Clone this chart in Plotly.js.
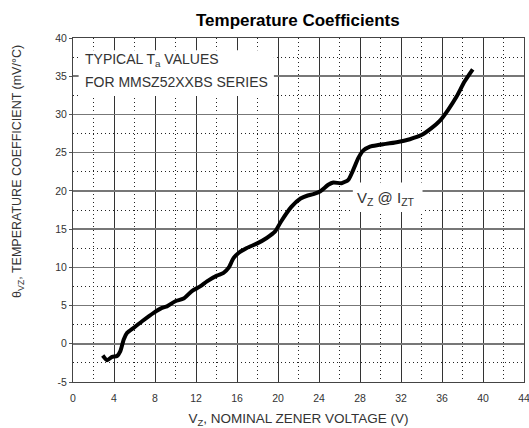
<!DOCTYPE html>
<html>
<head>
<meta charset="utf-8">
<script src="https://cdn.plot.ly/plotly-3.0.1.min.js"></script>
<style>html,body{margin:0;padding:0;background:#fff;}#chart{width:529px;height:428px;}</style>
</head>
<body>
<div id="chart"></div>
<script>
// Nominal zener voltage (V)
const vz = [2.9, 3.33, 3.82, 4.3, 4.62, 4.95, 5.28, 5.92, 6.74, 7.87, 8.68, 9.17, 9.98, 10.79, 11.6, 12.4, 13.07, 14.04, 14.69, 15.17, 15.66, 16.15, 16.96, 17.93, 18.9, 19.72, 20.3, 21.3, 22.2, 22.9, 23.45, 24.1, 24.9, 25.4, 26.2, 26.86, 27.34, 27.83, 28.3, 28.97, 29.78, 30.26, 31.57, 32.86, 34.0, 34.97, 35.78, 36.6, 37.41, 38.2, 39.0];
// Temperature coefficient (mV/°C)
const tc = [-1.53, -2.14, -1.7, -1.6, -0.96, 0.56, 1.43, 2.09, 2.95, 4.05, 4.7, 4.9, 5.56, 5.91, 6.9, 7.5, 8.17, 8.92, 9.27, 9.92, 11.2, 11.88, 12.53, 13.1, 13.84, 14.7, 16.0, 17.9, 19.0, 19.4, 19.58, 19.92, 20.8, 21.1, 21.0, 21.45, 22.75, 24.28, 25.27, 25.8, 26.0, 26.1, 26.37, 26.76, 27.3, 28.2, 29.15, 30.6, 32.3, 34.3, 35.9];
const xTicks = [0, 4, 8, 12, 16, 20, 24, 28, 32, 36, 40, 44];
const yTicks = [-5, 0, 5, 10, 15, 20, 25, 30, 35, 40];

const FONT = 'Liberation Sans, Arial, sans-serif';
const TXT = '#333';

const trace = {
  x: vz, y: tc, type: 'scatter', mode: 'lines',
  line: {color: '#000', width: 4, shape: 'spline', smoothing: 0.6},
  hoverinfo: 'skip', showlegend: false
};

const layout = {
  width: 529, height: 428,
  margin: {l: 72.5, r: 4.5, t: 37.5, b: 46},
  paper_bgcolor: '#fff', plot_bgcolor: '#fff',
  font: {family: FONT, color: TXT},
  title: {text: '<b>Temperature Coefficients</b>', font: {family: FONT, size: 17, color: '#000'},
          x: 0.563, xanchor: 'center', xref: 'container', y: 0.953, yref: 'container', yanchor: 'middle'},
  xaxis: {
    range: [0, 44], tickvals: xTicks, ticktext: xTicks.map(String),
    showgrid: true, gridcolor: '#333', gridwidth: 1,
    minor: {dtick: 2, tick0: 0, showgrid: true, gridcolor: '#222', gridwidth: 1, griddash: '1px,3px'},
    showline: true, linecolor: '#444', linewidth: 1, mirror: true,
    ticks: '', ticklabelstandoff: 6, ticklabeloverflow: 'allow',
    tickfont: {family: FONT, size: 10.5, color: TXT},
    zeroline: false, fixedrange: true,
    title: {text: 'V<sub>Z</sub>, NOMINAL ZENER VOLTAGE (V)', font: {family: FONT, size: 13.5, color: TXT}, standoff: 12}
  },
  yaxis: {
    range: [-5, 40], tickvals: yTicks, ticktext: yTicks.map(String),
    showgrid: true, gridcolor: '#777', gridwidth: 1.5,
    minor: {dtick: 2.5, tick0: 0, showgrid: true, gridcolor: '#222', gridwidth: 1, griddash: '1px,3px'},
    showline: true, linecolor: '#444', linewidth: 1, mirror: true,
    ticks: 'outside', ticklen: 3, tickcolor: '#555',
    tickfont: {family: FONT, size: 10.5, color: TXT},
    zeroline: false, fixedrange: true
  },
  shapes: [
    {type: 'rect', xref: 'x', yref: 'y', x0: 0.55, x1: 19.6, y0: 32.4, y1: 38.4,
     fillcolor: '#fff', line: {width: 0}, layer: 'between'},
    {type: 'rect', xref: 'x', yref: 'y', x0: 27.3, x1: 34.1, y0: 17.25, y1: 21.1,
     fillcolor: '#fff', line: {width: 0}, layer: 'between'}
  ],
  annotations: [
    {text: 'TYPICAL T<sub>a</sub> VALUES', xref: 'x', yref: 'y', x: 1.0, y: 37.1,
     xanchor: 'left', yanchor: 'middle', showarrow: false, font: {family: FONT, size: 14, color: TXT}},
    {text: 'FOR MMSZ52XXBS SERIES', xref: 'x', yref: 'y', x: 1.0, y: 34.3,
     xanchor: 'left', yanchor: 'middle', showarrow: false, font: {family: FONT, size: 14, color: TXT}},
    {text: 'V<sub>Z</sub> @ I<sub>ZT</sub>', xref: 'x', yref: 'y', x: 30.5, y: 19.0,
     xanchor: 'center', yanchor: 'middle', showarrow: false, font: {family: FONT, size: 15, color: TXT}},
    {text: 'θ<sub>VZ</sub>, TEMPERATURE COEFFICIENT (mV/°C)', xref: 'paper', yref: 'paper',
     x: -0.121, y: 0.612, xanchor: 'center', yanchor: 'middle', textangle: -90, showarrow: false,
     font: {family: FONT, size: 12.5, color: TXT}}
  ]
};

Plotly.newPlot('chart', [trace], layout, {staticPlot: true, displayModeBar: false});
</script>
</body>
</html>
